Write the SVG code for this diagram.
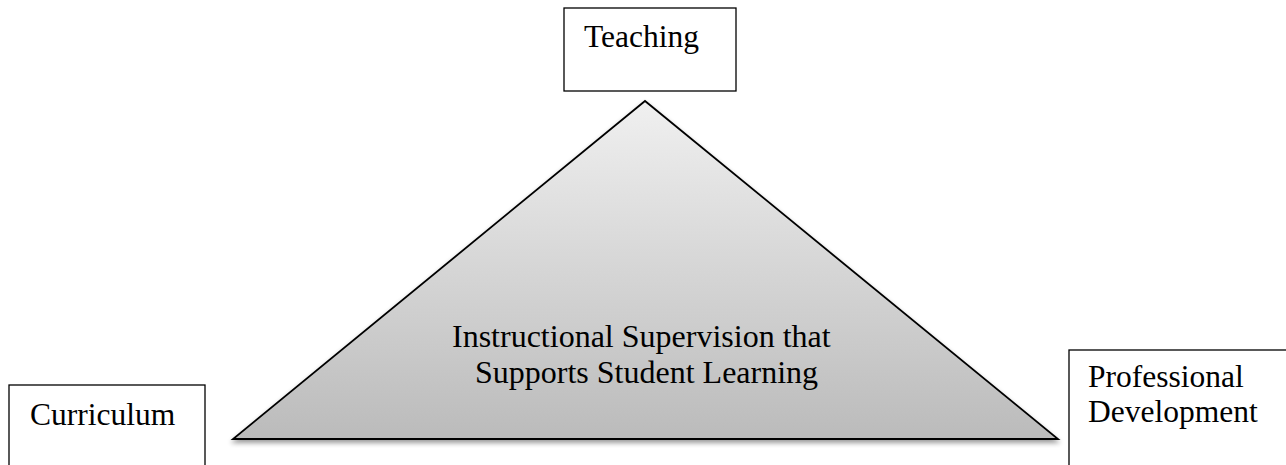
<svg xmlns="http://www.w3.org/2000/svg" width="1286" height="465" viewBox="0 0 1286 465">
<style>
.box{fill:#fff;stroke:#000;stroke-width:1.3}
.t{font-family:"Liberation Serif","Times New Roman",serif;font-size:31.5px;fill:#000}
.c{font-size:32px}
</style>
<defs>
<linearGradient id="g" x1="0" y1="0" x2="0" y2="1">
<stop offset="0" stop-color="#f0f0f0"/>
<stop offset="1" stop-color="#bbbbbb"/>
</linearGradient>
<filter id="sh" x="-10%" y="-10%" width="120%" height="130%">
<feGaussianBlur in="SourceAlpha" stdDeviation="2.5"/>
<feOffset dx="0" dy="3" result="b"/>
<feComponentTransfer><feFuncA type="linear" slope="0.4"/></feComponentTransfer>
<feMerge><feMergeNode/><feMergeNode in="SourceGraphic"/></feMerge>
</filter>
</defs>
<g id="teaching">
<rect class="box" x="564" y="8" width="172" height="83"/>
<text class="t" x="584" y="47">Teaching</text>
</g>
<g id="curriculum">
<rect class="box" x="9" y="385" width="196" height="100"/>
<text class="t" x="30" y="425">Curriculum</text>
</g>
<g id="professional-development">
<rect class="box" x="1069" y="350" width="240" height="130"/>
<text class="t" x="1088" y="387">Professional</text>
<text class="t" x="1088" y="422">Development</text>
</g>
<g id="supervision">
<polygon points="645,101 233,439 1058,439" fill="url(#g)" stroke="#000" stroke-width="1.8" stroke-linejoin="miter" filter="url(#sh)"/>
<text class="t c" x="452" y="347">Instructional Supervision that</text>
<text class="t c" x="475" y="383">Supports Student Learning</text>
</g>
<g id="connectors"></g>
</svg>
